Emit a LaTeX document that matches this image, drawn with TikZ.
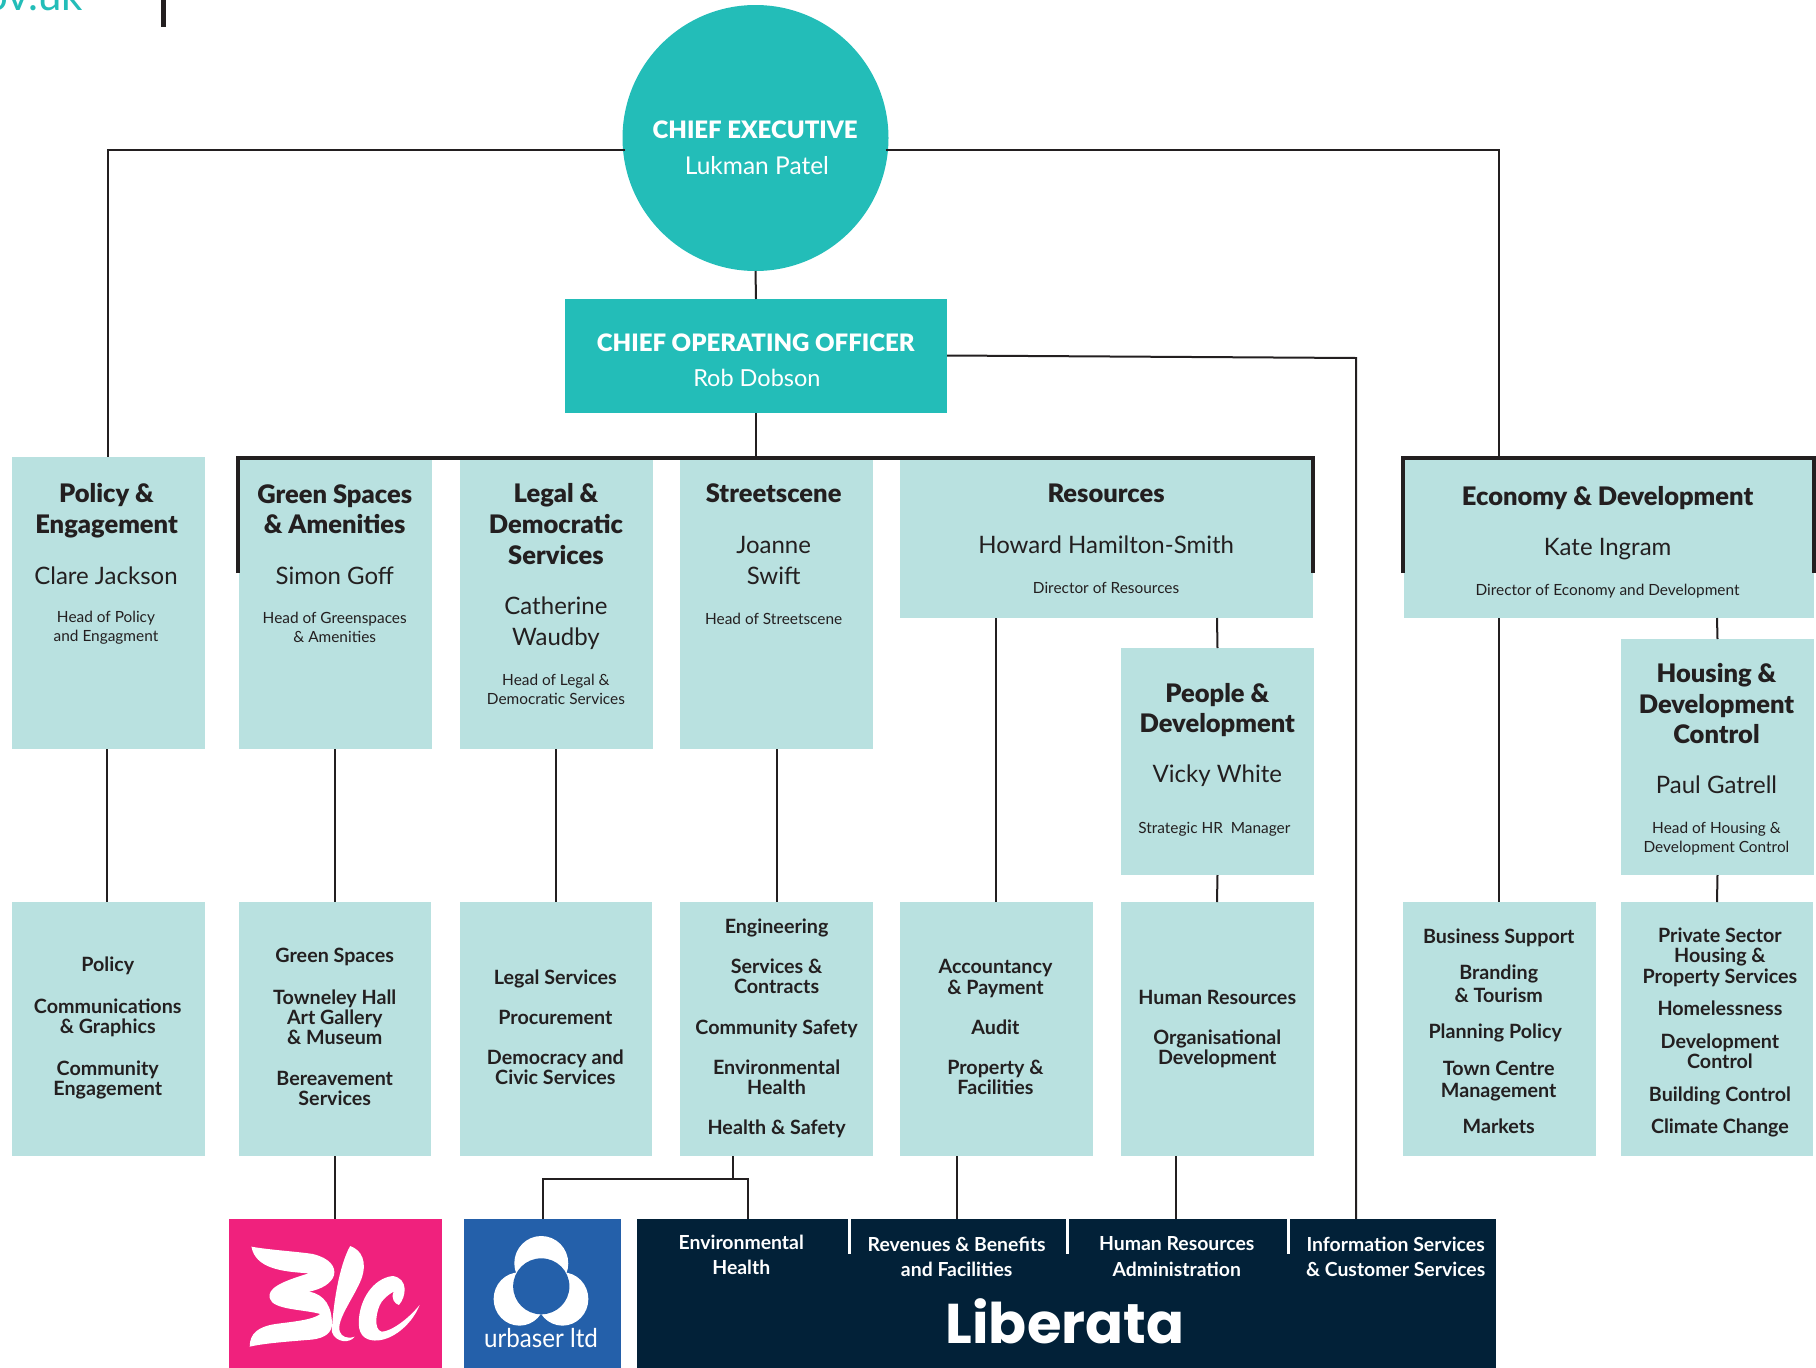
\documentclass[tikz,border=0pt]{standalone}
\usepackage{fontspec}
\setmainfont{Lato}
\newfontfamily\blk{Lato Black}
\newfontfamily\logofont{Poppins}
\definecolor{teal1}{HTML}{23BDB8}
\definecolor{pale}{HTML}{B9E1E0}
\definecolor{pinkL}{HTML}{F0217D}
\definecolor{blueL}{HTML}{2460AA}
\definecolor{navy}{HTML}{022138}
\definecolor{ink}{HTML}{231F20}
\def\K{1.1582}
\newcommand{\bx}[6][palebox]{\node[#1,minimum width={(#5-#3)*1pt},minimum height={(#6-#4)*1pt}] (#2) at ({(#3+#5)/2},{(#4+#6)/2}) {};}
\newcommand{\T}[5]{\node[#2] (#1) at ({#3*\K},{#4*\K}) {#5};}
\tikzset{
 palebox/.style={fill=pale,inner sep=0,outer sep=0},
 navybox/.style={fill=navy,inner sep=0,outer sep=0},
 pinkbox/.style={fill=pinkL,inner sep=0,outer sep=0},
 bluebox/.style={fill=blueL,inner sep=0,outer sep=0},
 tealbox/.style={fill=teal1,inner sep=0,outer sep=0},
 wire/.style={draw=ink,line width=2pt},
 frame/.style={draw=ink,line width=4.4pt,line cap=butt,line join=miter},
 txt/.style={inner sep=0,align=center,text=ink},
 head/.style={txt,font=\blk\fontsize{25.5}{30.6}\selectfont},
 pname/.style={txt,font=\fontsize{24}{31}\selectfont},
 role/.style={txt,font=\fontsize{15.4}{19}\selectfont},
 low/.style={txt,font=\fontsize{19.7}{20.2}\selectfont\bfseries},
 lowb/.style={txt,font=\fontsize{19.7}{22.4}\selectfont\bfseries},
 wt/.style={inner sep=0,align=center,text=white},
 wsm/.style={wt,font=\fontsize{19.4}{25.5}\selectfont\bfseries},
}
\begin{document}
\begin{tikzpicture}[x=1pt,y=-1pt]
\useasboundingbox (0,0) rectangle (1816,1368);
% top-left fragments
\node[anchor=base east,inner sep=0,text=teal1,font=\fontsize{42}{42}\selectfont] (url) at (83,10) {ov.uk};
\bx[fill=ink,inner sep=0,outer sep=0]{cut}{161}{0}{166}{27}
% shapes
\node[circle,fill=teal1,minimum size=266pt,inner sep=0,outer sep=0] (ce) at (755.5,138) {};
\bx[tealbox]{coo}{565}{299}{947}{413}
\bx{pol}{12}{457}{205}{749}
\bx{grn}{239}{460}{432}{749}
\bx{leg}{460}{460}{653}{749}
\bx{str}{680}{460}{873}{749}
\bx{res}{900}{460}{1313}{618}
\bx{eco}{1404}{459}{1814}{618}
\bx{ppl}{1121}{648}{1314}{875}
\bx{hou}{1621}{639}{1814}{875}
\bx{lpol}{12}{902}{205}{1156}
\bx{lgrn}{239}{902}{431}{1156}
\bx{lleg}{460}{902}{652}{1156}
\bx{lstr}{680}{902}{873}{1156}
\bx{lacc}{900}{902}{1093}{1156}
\bx{lhr}{1121}{902}{1314}{1156}
\bx{lbus}{1403}{902}{1596}{1156}
\bx{lhou}{1621}{902}{1813}{1156}
\bx[pinkbox]{blc}{229}{1219}{442}{1368}
\bx[bluebox]{urb}{464}{1219}{621}{1368}
\bx[navybox]{lib}{637}{1219}{1496}{1368}
% connectors
\coordinate (ceL) at (625,150);
\coordinate (ceR) at (886,150);
\coordinate (frameTop) at (756,458);
\draw[wire] (ceL) -- (107.5,150) -- (107.5,0 |- pol.north);
\draw[wire] (ceR) -- (1499,150) -- (1499,456);
\draw[wire] (ce.south) -- (coo.north);
\draw[wire] (coo.south) -- (frameTop);
\draw[wire] (coo.east |- 0,355.5) -- (1356,358) -- (1356,0 |- lib.north);
\draw[frame] (238,573) -- (238,458) -- (1313,458) -- (1313,573);
\draw[frame] (1403,573) -- (1403,458) -- (1814,458) -- (1814,573);
\draw[wire] (106.5,0 |- pol.south) -- (106.5,0 |- lpol.north);
\draw[wire] (lgrn.north |- grn.south) -- (lgrn.north);
\draw[wire] (lleg.north |- leg.south) -- (lleg.north);
\draw[wire] (777,0 |- str.south) -- (777,0 |- lstr.north);
\draw[wire] (996,0 |- res.south) -- (996,0 |- lacc.north);
\draw[wire] (1217,0 |- res.south) -- (ppl.north);
\draw[wire] (ppl.south) -- (1217,0 |- lhr.north);
\draw[wire] (1499,0 |- eco.south) -- (1499,0 |- lbus.north);
\draw[wire] (1717,0 |- eco.south) -- (hou.north);
\draw[wire] (hou.south) -- (1717,0 |- lhou.north);
\draw[wire] (lgrn.south) -- (lgrn.south |- blc.north);
\draw[wire] (733,0 |- lstr.south) -- (733,1179);
\draw[wire] (543,0 |- urb.north) -- (543,1179) -- (748,1179) -- (748,0 |- lib.north);
\draw[wire] (957,0 |- lacc.south) -- (957,0 |- lib.north);
\draw[wire] (1176,0 |- lhr.south) -- (1176,0 |- lib.north);
% white separators in Liberata panel
\draw[white,line width=3pt] (849,1219) -- (849,1254) (1067,1219) -- (1067,1254) (1288,1219) -- (1288,1254);
% top texts
\T{cet}{wt,font=\blk\fontsize{24}{36}\selectfont}{652}{112}{CHIEF EXECUTIVE}
\T{cen}{wt,font=\fontsize{24.5}{36}\selectfont}{653.5}{143}{Lukman Patel}
\T{coot}{wt,font=\blk\fontsize{24}{36}\selectfont}{652.5}{296}{CHIEF OPERATING OFFICER}
\T{coon}{wt,font=\fontsize{23.5}{36}\selectfont}{653.5}{326}{Rob Dobson}
% department texts
\T{polh}{head}{92}{441}{Policy \&\\Engagement}
\T{poln}{pname}{91.5}{497}{Clare Jackson}
\T{polr}{role}{91.5}{542}{Head of Policy\\and Engagment}
\T{grnh}{head}{289}{439.5}{Green Spaces\\\& Amenities}
\T{grnn}{pname}{289}{497}{Simon Goff}
\T{grnr}{role}{289}{542}{Head of Greenspaces\\\& Amenities}
\T{legh}{head}{480}{452.5}{Legal \&\\Democratic\\Services}
\T{legn}{pname}{480}{538.5}{Catherine\\Waudby}
\T{legr}{role}{480}{595}{Head of Legal \&\\Democratic Services}
\T{strh}{head}{668}{426}{Streetscene}
\T{strn}{pname}{668}{483.5}{Joanne\\Swift}
\T{strr}{role}{668}{534}{Head of Streetscene}
\T{resh}{head}{955}{426}{Resources}
\T{resn}{pname}{955}{470}{Howard Hamilton-Smith}
\T{resr}{role}{955}{508}{Director of Resources}
\T{ecoh}{head}{1388}{430}{Economy \& Development}
\T{econ}{pname}{1388}{474}{Kate Ingram}
\T{ecor}{role}{1388}{510.5}{Director of Economy and Development}
\T{pplh}{head}{1051}{613}{People \&\\Development}
\T{ppln}{pname}{1051}{670}{Vicky White}
\T{pplr}{role}{1048.5}{716}{Strategic HR\ \ Manager}
\T{houh}{head}{1482}{607.5}{Housing \&\\Development\\Control}
\T{houn}{pname}{1482}{677.5}{Paul Gatrell}
\T{hour}{role}{1482}{724}{Head of Housing \&\\Development Control}
% service lists
\T{lpolt}{low}{93}{887.5}{Policy\\[22pt]Communications\\\& Graphics\\[22pt]Community\\Engagement}
\T{lgrnt}{low}{289}{887}{Green Spaces\\[21pt]Towneley Hall\\Art Gallery\\\& Museum\\[21pt]Bereavement\\Services}
\T{llegt}{low}{479.5}{887}{Legal Services\\[20pt]Procurement\\[20pt]Democracy and\\Civic Services}
\T{lstrt}{low}{670.5}{888}{Engineering\\[20pt]Services \&\\Contracts\\[20pt]Community Safety\\[20pt]Environmental\\Health\\[20pt]Health \& Safety}
\T{lacct}{low}{859.5}{887}{Accountancy\\\& Payment\\[20pt]Audit\\[20pt]Property \&\\Facilities}
\T{lhrt}{low}{1051}{888.5}{Human Resources\\[20pt]Organisational\\Development}
\T{lbust}{lowb}{1294}{890.5}{Business Support\\[14pt]Branding\\\& Tourism\\[14pt]\hspace*{-7pt}Planning Policy\\[14pt]Town Centre\\Management\\[14pt]Markets}
\T{lhout}{low}{1485}{891.5}{Private Sector\\Housing \&\\Property Services\\[12pt]Homelessness\\[13pt]Development\\Control\\[12.5pt]Building Control\\[12pt]Climate Change}
% Liberata panel texts
\T{libe}{wsm}{640}{1083.5}{Environmental\\Health}
\T{libr}{wsm}{826}{1085}{Revenues \& Benefits\\and Facilities}
\T{libh}{wsm}{1016}{1085}{Human Resources\\Administration}
\T{libi}{wsm}{1205}{1085}{Information Services\\\& Customer Services}
\node[wt,font=\logofont\fontsize{56}{56}\selectfont\bfseries] (liberata) at (1065,1321) {Liberata};
% logos, in crop coordinates
\begin{scope}[shift={(0,1150)},xscale=0.574,yscale=0.3333]
 \fill[white] (438,290) .. controls (470,300) and (520,305) .. (545,312)
   .. controls (575,325) and (585,350) .. (582,375)
   .. controls (578,400) and (560,418) .. (538,425)
   .. controls (565,432) and (580,470) .. (578,530)
   .. controls (575,555) and (560,568) .. (535,570)
   .. controls (500,575) and (460,580) .. (435,590)
   .. controls (435,550) and (450,530) .. (480,522)
   .. controls (510,515) and (545,510) .. (558,492)
   .. controls (530,478) and (475,480) .. (470,445)
   .. controls (465,415) and (490,395) .. (538,370)
   .. controls (490,365) and (445,355) .. (438,290) -- cycle;
 \fill[white] (610,288) .. controls (630,300) and (640,335) .. (630,385)
   .. controls (618,440) and (585,510) .. (592,545)
   .. controls (595,560) and (605,568) .. (618,560)
   .. controls (610,580) and (585,580) .. (578,545)
   .. controls (580,470) and (590,350) .. (610,288) -- cycle;
 \fill[white] (684,378) .. controls (650,385) and (625,450) .. (625,520)
   .. controls (625,560) and (640,575) .. (660,571)
   .. controls (690,565) and (720,515) .. (731,465)
   .. controls (710,510) and (680,545) .. (665,545)
   .. controls (650,540) and (655,480) .. (665,455)
   .. controls (672,440) and (680,430) .. (686,425)
   .. controls (680,445) and (688,462) .. (695,465)
   .. controls (708,440) and (712,385) .. (684,378) -- cycle;
 \fill[white] (943,340) ellipse [x radius=47,y radius=82];
 \fill[white] (905,447) ellipse [x radius=45,y radius=80];
 \fill[white] (980,447) ellipse [x radius=45,y radius=80];
 \fill[blueL] (943,409) ellipse [x radius=49,y radius=84];
\end{scope}
\node[wt,font=\fontsize{26}{30}\selectfont,xscale=0.93] (urbt) at (541,1338) {urbaser ltd};
\end{tikzpicture}
\end{document}
